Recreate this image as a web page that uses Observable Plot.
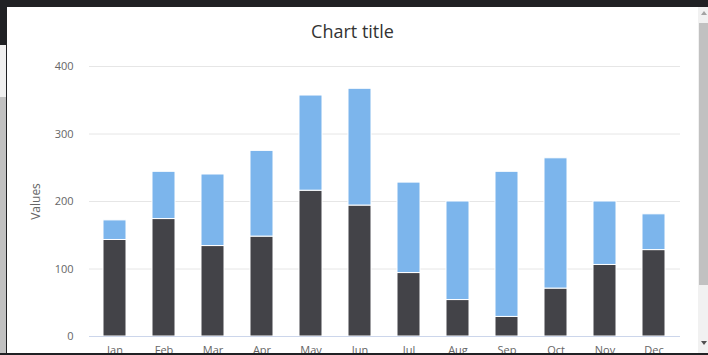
<!DOCTYPE html>
<html><head><meta charset="utf-8">
<script src="https://cdn.jsdelivr.net/npm/d3@7"></script>
<script src="https://cdn.jsdelivr.net/npm/@observablehq/plot@0.6"></script>
<style>
html,body{margin:0;padding:0;background:#fff;width:708px;height:355px;overflow:hidden;font-family:"Open Sans",sans-serif;}
#page{position:relative;width:708px;height:355px;overflow:hidden;}
#title{position:absolute;left:7px;width:691px;top:19px;line-height:24px;text-align:center;font-size:18px;color:#333;font-family:"Open Sans",sans-serif;}
#chart{position:absolute;left:0;top:50px;}
#chart svg [aria-label="y-axis label"] text{font-size:12px;}
.chrome{position:absolute;}
</style>
</head><body>
<div id="page">
  <div id="chart"></div>
  <div id="title">Chart title</div>
  <div class="chrome" style="left:0;top:0;width:708px;height:7px;background:#202124"></div>
  <div class="chrome" style="left:0;top:0;width:6px;height:45px;background:#202124"></div>
  <div class="chrome" style="left:0;top:45px;width:6px;height:52px;background:#f0f0f0"></div>
  <div class="chrome" style="left:0;top:97px;width:6px;height:258px;background:#c1c1c1"></div>
  <div class="chrome" style="left:6px;top:0;width:1px;height:355px;background:#202124"></div>
  <div class="chrome" style="left:698px;top:7px;width:10px;height:346px;background:#f1f1f1"></div>
  <div class="chrome" style="left:699px;top:23px;width:9px;height:262px;background:#c1c1c1"></div>
  <div class="chrome" style="left:701px;top:11px;width:0;height:0;border-left:3px solid transparent;border-right:3px solid transparent;border-bottom:4px solid #a3a3a3"></div>
  <div class="chrome" style="left:701px;top:341px;width:0;height:0;border-left:3px solid transparent;border-right:3px solid transparent;border-top:4px solid #505050"></div>
  <div class="chrome" style="left:0;top:353px;width:708px;height:2px;background:#202124"></div>
</div>
<script>
const months = ["Jan","Feb","Mar","Apr","May","Jun","Jul","Aug","Sep","Oct","Nov","Dec"];
const seriesNames = ["Series 2","Series 1"];
const darkValues = [143,174,134,148,216,194,94,54,29,71,106,128];
const lightValues = [29,70,106,127,141,173,134,146,215,193,94,53];
const yTicks = [0,100,200,300,400];
const seriesColors = ["#434348","#7cb5ec"];

const data = [];
months.forEach((m, i) => {
  data.push({month: m, series: seriesNames[0], value: darkValues[i]});
  data.push({month: m, series: seriesNames[1], value: lightValues[i]});
});

const chart = Plot.plot({
  width: 708,
  height: 305,
  marginTop: 16,
  marginBottom: 19,
  marginLeft: 89,
  marginRight: 28,
  style: {fontFamily: "Open Sans, sans-serif", fontSize: "11px", color: "#666", background: "transparent", overflow: "visible"},
  x: {domain: months, paddingInner: 0.527, paddingOuter: 0.2635, label: null},
  y: {domain: [0, 400], ticks: yTicks, label: "Values"},
  color: {domain: seriesNames, range: seriesColors},
  marks: [
    Plot.gridY(yTicks, {stroke: "#e6e6e6", strokeOpacity: 1}),
    Plot.barY(data, {x: "month", y: "value", fill: "series", stroke: "#fff", strokeWidth: 1}),
    Plot.ruleY([0], {stroke: "#ccd6eb"}),
    Plot.axisX({tickSize: 0, tickPadding: 10, label: null, fill: "#666"}),
    Plot.axisY(yTicks, {tickSize: 0, tickPadding: 16, label: "Values", labelAnchor: "center", labelOffset: 58, labelArrow: "none", fill: "#666"})
  ]
});
document.getElementById("chart").appendChild(chart);
</script>
</body></html>
